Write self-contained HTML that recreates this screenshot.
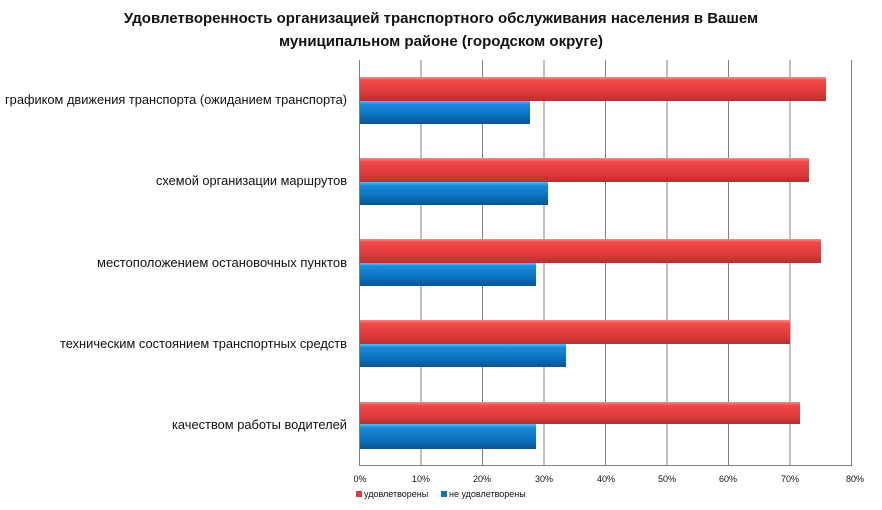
<!DOCTYPE html>
<html><head><meta charset="utf-8"><style>
body{margin:0;background:#fff;}
svg{display:block;font-family:"Liberation Sans",sans-serif;}
</style></head><body>
<svg width="882" height="510" viewBox="0 0 882 510">
<defs>
<linearGradient id="r" x1="0" y1="0" x2="0" y2="1">
<stop offset="0" stop-color="#f78a8a"/><stop offset="0.15" stop-color="#f24848"/><stop offset="0.6" stop-color="#e13c3c"/><stop offset="1" stop-color="#b83030"/></linearGradient>
<linearGradient id="b" x1="0" y1="0" x2="0" y2="1">
<stop offset="0" stop-color="#5fb8f0"/><stop offset="0.15" stop-color="#1a8ad8"/><stop offset="0.6" stop-color="#0a72bf"/><stop offset="1" stop-color="#0a5590"/></linearGradient>
</defs>
<text x="441" y="23" text-anchor="middle" font-size="15" font-weight="bold" fill="#111">Удовлетворенность организацией транспортного обслуживания населения в Вашем</text>
<text x="441" y="46" text-anchor="middle" font-size="15" font-weight="bold" fill="#111">муниципальном районе (городском округе)</text>
<g stroke="#808080" stroke-width="1">
<line x1="359.5" y1="60" x2="359.5" y2="465"/>
<line x1="421" y1="60" x2="421" y2="465"/>
<line x1="482.5" y1="60" x2="482.5" y2="465"/>
<line x1="544" y1="60" x2="544" y2="465"/>
<line x1="605.5" y1="60" x2="605.5" y2="465"/>
<line x1="667" y1="60" x2="667" y2="465"/>
<line x1="728.5" y1="60" x2="728.5" y2="465"/>
<line x1="790" y1="60" x2="790" y2="465"/>
<line x1="851.5" y1="60" x2="851.5" y2="465"/>
<line x1="359" y1="465.5" x2="852" y2="465.5"/>
</g>
<g>
<rect x="360" y="77" width="466" height="24" fill="url(#r)"/>
<rect x="360" y="101" width="170" height="23" fill="url(#b)"/>
<rect x="360" y="158" width="449" height="24" fill="url(#r)"/>
<rect x="360" y="182" width="188" height="23" fill="url(#b)"/>
<rect x="360" y="239" width="461" height="24" fill="url(#r)"/>
<rect x="360" y="263" width="176" height="23" fill="url(#b)"/>
<rect x="360" y="320" width="430" height="24" fill="url(#r)"/>
<rect x="360" y="344" width="206" height="23" fill="url(#b)"/>
<rect x="360" y="402" width="440" height="22" fill="url(#r)"/>
<rect x="360" y="424" width="176" height="25" fill="url(#b)"/>
</g>
<g font-size="13" fill="#111" text-anchor="end">
<text x="347" y="104" textLength="342" lengthAdjust="spacingAndGlyphs">графиком движения транспорта (ожиданием транспорта)</text>
<text x="347" y="185" textLength="191" lengthAdjust="spacingAndGlyphs">схемой организации маршрутов</text>
<text x="347" y="267" textLength="250" lengthAdjust="spacingAndGlyphs">местоположением остановочных пунктов</text>
<text x="347" y="348" textLength="287" lengthAdjust="spacingAndGlyphs">техническим состоянием транспортных средств</text>
<text x="347" y="429" textLength="175" lengthAdjust="spacingAndGlyphs">качеством работы водителей</text>
</g>
<g font-size="9" fill="#111" text-anchor="middle">
<text x="360" y="482">0%</text><text x="421" y="482">10%</text><text x="482" y="482">20%</text><text x="544" y="482">30%</text><text x="606" y="482">40%</text><text x="667" y="482">50%</text><text x="728" y="482">60%</text><text x="790" y="482">70%</text><text x="855" y="482">80%</text>
</g>
<rect x="356" y="491" width="6" height="6" fill="#e13c3c"/>
<text x="364" y="497" font-size="9" fill="#111">удовлетворены</text>
<rect x="441" y="491" width="6" height="6" fill="#0a72bf"/>
<text x="449" y="497" font-size="9" fill="#111">не удовлетворены</text>
</svg>
</body></html>
